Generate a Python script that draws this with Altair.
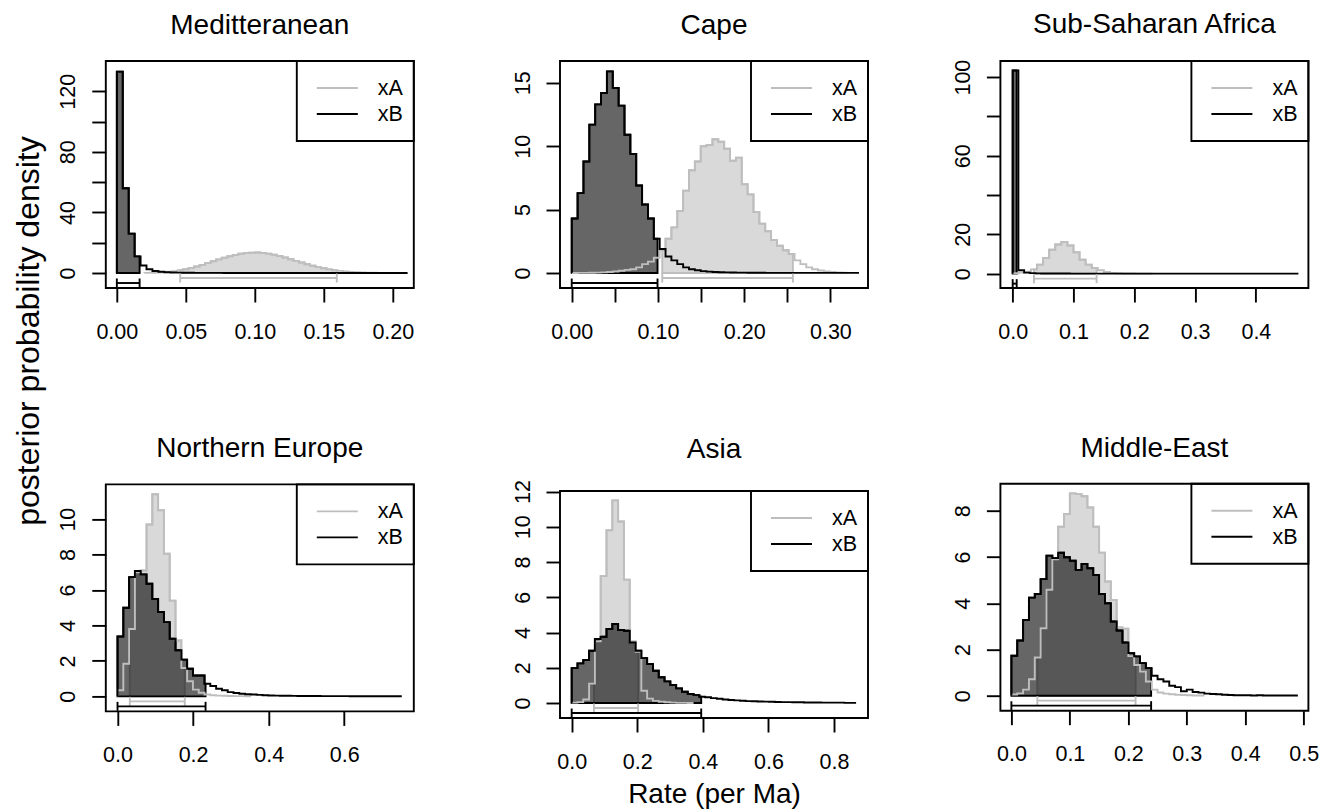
import altair as alt
import pandas as pd

FONT = "Liberation Sans"
W, H = 308, 227
A_LINE, A_FILL = "#bebebe", "#d9d9d9"
LW = 1.9

# ---------------- data ----------------
panel_names = ["Meditteranean", "Cape", "Sub-Saharan Africa",
               "Northern Europe", "Asia", "Middle-East"]

# Meditteranean
med_xA_start, med_xA_width = 0.020, 0.004
med_xA = [0.1, 0.2, 0.3, 0.5, 0.8, 1.2, 1.8, 2.5, 3.3, 4.3,
          5.4, 6.6, 7.8, 9.0, 10.1, 11.1, 12.0, 12.7, 13.2, 13.4,
          13.5, 13.3, 12.8, 12.1, 11.2, 10.2, 9.1, 8.0, 6.9, 5.8,
          4.8, 3.9, 3.1, 2.4, 1.8, 1.4, 1.0, 0.7, 0.5, 0.35,
          0.25, 0.15, 0.1, 0.05, 0.03]
med_xB_start, med_xB_width = 0.0, 0.0043
med_xB = [133.0, 56.0, 26.0, 11.0, 5.0, 2.5, 1.3, 0.8, 0.5, 0.35,
          0.25, 0.2, 0.15, 0.12, 0.1, 0.08, 0.07, 0.06, 0.05, 0.04,
          0.04, 0.03, 0.03, 0.02, 0.02, 0.02, 0.02, 0.01, 0.01, 0.01,
          0.01, 0.01, 0.01, 0.01, 0.01, 0.01, 0.01, 0.01, 0.01, 0.01,
          0.01, 0.01, 0.01, 0.01, 0.01, 0.01, 0.01, 0.01, 0.01]
med_hpd_xA = [0.0459, 0.1594]
med_hpd_xB = [0.0, 0.0165]

# Cape
cape_xA_start, cape_xA_width = 0.0, 0.0068
cape_xA = [0.005, 0.01, 0.01, 0.02, 0.03, 0.05, 0.08, 0.12, 0.18, 0.25,
           0.3, 0.45, 0.7, 0.9, 1.2, 1.8, 2.7, 3.6, 4.9, 6.5,
           8.1, 8.8, 10.0, 10.1, 10.55, 10.35, 9.8, 8.85, 9.1, 7.0,
           6.2, 4.8, 3.9, 3.3, 2.6, 2.15, 1.8, 1.5, 1.0, 0.7,
           0.45, 0.3, 0.2, 0.12, 0.08, 0.05, 0.03]
cape_xB_start, cape_xB_width = 0.0, 0.0068
cape_xB = [4.3, 6.3, 8.8, 11.7, 13.3, 14.2, 15.9, 14.6, 13.2, 10.9,
           9.4, 6.9, 5.4, 4.3, 2.7, 1.9, 1.3, 1.0, 0.7, 0.45,
           0.3, 0.22, 0.15, 0.11, 0.08, 0.06, 0.05, 0.04, 0.03, 0.03,
           0.02, 0.02, 0.02, 0.01, 0.01, 0.01, 0.01, 0.01, 0.01, 0.01,
           0.01, 0.01, 0.01, 0.01, 0.01, 0.01, 0.01, 0.01, 0.01]
cape_hpd_xA = [0.105, 0.2565]
cape_hpd_xB = [0.0, 0.0995]

# Sub-Saharan Africa
ssa_xA_start, ssa_xA_width = 0.0, 0.01
ssa_xA = [0.2, 0.5, 1.0, 2.2, 4.6, 8.0, 12.2, 14.8, 16.1, 14.3,
          10.9, 7.1, 4.6, 2.9, 1.7, 0.85, 0.4, 0.2, 0.1, 0.05,
          0.03, 0.02, 0.01]
ssa_xB_start, ssa_xB_width = 0.0, 0.0094
ssa_xB = [103.4, 1.7, 0.5, 0.25, 0.15, 0.1, 0.08, 0.06, 0.05, 0.04,
          0.03, 0.03, 0.03, 0.03, 0.03, 0.02, 0.02, 0.02, 0.02, 0.02,
          0.02, 0.02, 0.02, 0.02, 0.02, 0.01, 0.01, 0.01, 0.01, 0.01,
          0.01, 0.01, 0.01, 0.01, 0.01, 0.01, 0.01, 0.01, 0.01, 0.01,
          0.01, 0.01, 0.01, 0.01, 0.01, 0.01, 0.01, 0.01, 0.01, 0.01]
ssa_hpd_xA = [0.035, 0.138]
ssa_hpd_xB = [0.0, 0.0066]

# Northern Europe
ne_xA_start, ne_xA_width = 0.0, 0.01535
ne_xA = [0.34, 1.84, 3.8, 7.0, 7.1, 9.7, 11.4, 10.5, 8.05, 5.4,
         3.15, 1.6, 0.85, 0.38, 0.2, 0.1, 0.06, 0.04, 0.03, 0.02,
         0.01, 0.01, 0.005]
ne_xB_start, ne_xB_width = 0.0, 0.01535
ne_xB = [3.38, 5.0, 6.73, 7.07, 6.88, 6.35, 5.5, 4.76, 4.19, 3.25,
         2.6, 2.07, 1.56, 1.18, 1.18, 0.71, 0.58, 0.43, 0.34, 0.24,
         0.19, 0.15, 0.12, 0.1, 0.08, 0.06, 0.05, 0.04, 0.035, 0.03,
         0.025, 0.02, 0.02, 0.015, 0.015, 0.01, 0.01, 0.01, 0.01, 0.01,
         0.005, 0.005, 0.005, 0.005, 0.005, 0.005, 0.005, 0.005, 0.005]
ne_hpd_xA = [0.0325, 0.178]
ne_hpd_xB = [0.0, 0.233]

# Asia
asia_xA_start, asia_xA_width = 0.0, 0.0177
asia_xA = [0.02, 0.05, 0.2, 1.1, 3.5, 7.2, 9.8, 11.5, 10.3, 7.0,
           3.5, 2.9, 0.7, 0.25, 0.12, 0.07, 0.04, 0.02, 0.01, 0.01,
           0.005]
asia_xB_start, asia_xB_width = 0.0, 0.0177
asia_xB = [1.98, 2.25, 2.44, 2.97, 3.63, 3.76, 4.2, 4.48, 4.14, 4.1,
           3.44, 2.97, 2.55, 2.21, 1.83, 1.46, 1.23, 1.02, 0.83, 0.64,
           0.51, 0.45, 0.36, 0.33, 0.28, 0.24, 0.2, 0.17, 0.15, 0.13,
           0.11, 0.1, 0.09, 0.08, 0.07, 0.06, 0.05, 0.05, 0.04, 0.04,
           0.03, 0.03, 0.03, 0.02, 0.02, 0.02, 0.02, 0.01, 0.01]
asia_hpd_xA = [0.068, 0.2026]
asia_hpd_xB = [0.0, 0.395]

# Middle-East
me_xA_start, me_xA_width = 0.0, 0.01
me_xA = [0.05, 0.1, 0.26, 0.71, 1.65, 2.92, 4.58, 5.9, 7.31, 7.86,
         8.75, 8.72, 8.63, 8.14, 7.31, 6.19, 4.94, 4.14, 2.95, 2.9,
         1.71, 1.33, 1.04, 0.61, 0.26, 0.14, 0.09, 0.06, 0.04, 0.03,
         0.02, 0.01, 0.01]
me_xB_start, me_xB_width = 0.0, 0.01
me_xB = [1.73, 2.39, 3.28, 4.24, 4.4, 5.04, 6.06, 5.95, 6.18, 5.99,
         5.84, 5.44, 5.7, 5.51, 5.22, 4.4, 4.0, 3.21, 2.82, 2.3,
         1.84, 1.7, 1.41, 1.19, 0.86, 0.71, 0.61, 0.43, 0.37, 0.19,
         0.26, 0.16, 0.13, 0.09, 0.07, 0.06, 0.04, 0.03, 0.02, 0.02,
         0.02, 0.01, 0.02, 0.01, 0.01, 0.01, 0.01, 0.005, 0.005]
me_hpd_xA = [0.0444, 0.2124]
me_hpd_xB = [0.0, 0.239]

# axis domains and ticks
med_xdom, med_ydom = [-0.008, 0.2152], [-9.9, 140.0]
cape_xdom, cape_ydom = [-0.0136, 0.3436], [-1.18, 16.72]
ssa_xdom, ssa_ydom = [-0.0202, 0.4864], [-7.3, 108.2]
ne_xdom, ne_ydom = [-0.031, 0.784], [-0.85, 11.96]
asia_xdom, asia_ydom = [-0.0356, 0.9036], [-0.85, 12.03]
me_xdom, me_ydom = [-0.0188, 0.508], [-0.65, 9.17]

med_xticks, med_xlabels = [0, 0.05, 0.1, 0.15, 0.2], [0, 0.05, 0.1, 0.15, 0.2]
cape_xticks, cape_xlabels = [0, 0.05, 0.1, 0.15, 0.2, 0.25, 0.3], [0, 0.1, 0.2, 0.3]
ssa_xticks, ssa_xlabels = [0, 0.1, 0.2, 0.3, 0.4], [0, 0.1, 0.2, 0.3, 0.4]
ne_xticks, ne_xlabels = [0, 0.2, 0.4, 0.6], [0, 0.2, 0.4, 0.6]
asia_xticks, asia_xlabels = [0, 0.2, 0.4, 0.6, 0.8], [0, 0.2, 0.4, 0.6, 0.8]
me_xticks, me_xlabels = [0, 0.1, 0.2, 0.3, 0.4, 0.5], [0, 0.1, 0.2, 0.3, 0.4, 0.5]

med_yticks, med_ylabels = [0, 20, 40, 60, 80, 100, 120], [0, 40, 80, 120]
cape_yticks, cape_ylabels = [0, 5, 10, 15], [0, 5, 10, 15]
ssa_yticks, ssa_ylabels = [0, 20, 40, 60, 80, 100], [0, 20, 60, 100]
ne_yticks, ne_ylabels = [0, 2, 4, 6, 8, 10], [0, 2, 4, 6, 8, 10]
asia_yticks, asia_ylabels = [0, 2, 4, 6, 8, 10, 12], [0, 2, 4, 6, 8, 10, 12]
me_yticks, me_ylabels = [0, 2, 4, 6, 8], [0, 2, 4, 6, 8]

legend_labels = ["xA", "xB"]
x_title = "Rate (per Ma)"
y_title = "posterior probability density"


# ---------------- helpers ----------------
def step_outline(start, width, heights):
    xs, ys = [start], [0.0]
    for k, h in enumerate(heights):
        xs.append(start + k * width)
        ys.append(h)
    xs.append(start + len(heights) * width)
    ys.append(heights[-1])
    return pd.DataFrame({"x": xs, "y": ys, "i": list(range(len(xs)))})


def step_fill(start, width, heights, lo, hi):
    n = len(heights)

    def h_at(v):
        k = int((v - start) // width)
        return heights[max(0, min(n - 1, k))]

    xs, ys = [lo], [h_at(lo)]
    for k in range(n):
        e = start + k * width
        if lo < e < hi:
            xs.append(e)
            ys.append(heights[k])
    xs.append(hi)
    ys.append(ys[-1])
    return pd.DataFrame({"x": xs, "y": ys, "y2": [0.0] * len(xs)})


def label_expr(labels):
    return "indexof([" + ",".join(str(v) for v in labels) + "], datum.value) >= 0 ? datum.label : ''"


def panel(name, xa, xb, hpd_a, hpd_b, xdom, ydom, xticks, xlabels, xfmt,
          yticks, ylabels, xtitle=None, title_offset=20):
    xaxis_kw = dict(values=xticks, format=xfmt, labelExpr=label_expr(xlabels))
    if xtitle:
        xaxis_kw.update(title=xtitle, titleFont=FONT, titleFontSize=28,
                        titleFontWeight="normal", titleColor="black", titlePadding=8)
    x_enc = alt.X("x:Q", scale=alt.Scale(domain=xdom, nice=False, zero=False),
                  axis=alt.Axis(**xaxis_kw), title=xtitle)
    y_enc = alt.Y("y:Q", scale=alt.Scale(domain=ydom, nice=False, zero=False),
                  axis=alt.Axis(values=yticks, format="d", labelExpr=label_expr(ylabels)),
                  title=None, stack=None)

    fa = step_fill(*xa, *hpd_a)
    fb = step_fill(*xb, *hpd_b)
    oa = step_outline(*xa)
    ob = step_outline(*xb)

    area_a = alt.Chart(fa).mark_area(interpolate="step-after", fill=A_FILL, stroke=A_LINE,
                                      strokeWidth=LW).encode(x=x_enc, y=y_enc, y2="y2:Q")
    area_b = alt.Chart(fb).mark_area(interpolate="step-after", fill="black", fillOpacity=0.6,
                                      stroke="black", strokeWidth=LW).encode(
        x=x_enc, y=y_enc, y2="y2:Q")
    line_a = alt.Chart(oa).mark_line(interpolate="step-after", color=A_LINE,
                                      strokeWidth=LW).encode(x=x_enc, y=y_enc, order="i:Q")
    line_b = alt.Chart(ob).mark_line(interpolate="step-after", color="black",
                                      strokeWidth=LW).encode(x=x_enc, y=y_enc, order="i:Q")

    def hpd_layers(hpd, color, off):
        bar = alt.Chart(pd.DataFrame({"x": [hpd[0]], "x2": [hpd[1]], "y": [0.0]})).mark_rule(
            color=color, strokeWidth=LW, yOffset=off).encode(x=x_enc, x2="x2:Q", y=y_enc)
        caps = alt.Chart(pd.DataFrame({"x": hpd, "y": [0.0, 0.0]})).mark_tick(
            orient="vertical", size=9, thickness=LW, color=color, opacity=1,
            yOffset=off).encode(x=x_enc, y=y_enc)
        return [bar, caps]

    one = pd.DataFrame({"a": [0]})
    leg_box = alt.Chart(one).mark_rect(fill="white", stroke="black", strokeWidth=LW).encode(
        x=alt.value(W - 117), x2=alt.value(W), y=alt.value(0), y2=alt.value(80))
    leg_layers = [leg_box]
    for j, (lab, col) in enumerate(zip(legend_labels, [A_LINE, "black"])):
        yy = 27 + 26 * j
        leg_layers.append(alt.Chart(one).mark_rule(color=col, strokeWidth=LW).encode(
            x=alt.value(W - 97), x2=alt.value(W - 56), y=alt.value(yy)))
        leg_layers.append(alt.Chart(one).mark_text(
            align="left", baseline="middle", font=FONT, fontSize=21.5, color="black").encode(
            x=alt.value(W - 36), y=alt.value(yy + 1), text=alt.value(lab)))
    frame = alt.Chart(one).mark_rect(fill="transparent", stroke="black", strokeWidth=LW).encode(
        x=alt.value(0), x2=alt.value(W), y=alt.value(0), y2=alt.value(H))

    layers = ([area_a, area_b, line_a, line_b]
              + hpd_layers(hpd_a, A_LINE, 5) + hpd_layers(hpd_b, "black", 10)
              + leg_layers + [frame])
    return alt.layer(*layers).properties(
        width=W, height=H, title=alt.TitleParams(text=name, offset=title_offset))


p_med = panel(panel_names[0], (med_xA_start, med_xA_width, med_xA),
              (med_xB_start, med_xB_width, med_xB), med_hpd_xA, med_hpd_xB,
              med_xdom, med_ydom, med_xticks, med_xlabels, ".2f", med_yticks, med_ylabels)
p_cape = panel(panel_names[1], (cape_xA_start, cape_xA_width, cape_xA),
               (cape_xB_start, cape_xB_width, cape_xB), cape_hpd_xA, cape_hpd_xB,
               cape_xdom, cape_ydom, cape_xticks, cape_xlabels, ".2f", cape_yticks, cape_ylabels)
p_ssa = panel(panel_names[2], (ssa_xA_start, ssa_xA_width, ssa_xA),
              (ssa_xB_start, ssa_xB_width, ssa_xB), ssa_hpd_xA, ssa_hpd_xB,
              ssa_xdom, ssa_ydom, ssa_xticks, ssa_xlabels, ".1f", ssa_yticks, ssa_ylabels)
p_ne = panel(panel_names[3], (ne_xA_start, ne_xA_width, ne_xA),
             (ne_xB_start, ne_xB_width, ne_xB), ne_hpd_xA, ne_hpd_xB,
             ne_xdom, ne_ydom, ne_xticks, ne_xlabels, ".1f", ne_yticks, ne_ylabels)
p_asia = panel(panel_names[4], (asia_xA_start, asia_xA_width, asia_xA),
               (asia_xB_start, asia_xB_width, asia_xB), asia_hpd_xA, asia_hpd_xB,
               asia_xdom, asia_ydom, asia_xticks, asia_xlabels, ".1f", asia_yticks, asia_ylabels,
               xtitle=x_title, title_offset=16)
p_me = panel(panel_names[5], (me_xA_start, me_xA_width, me_xA),
             (me_xB_start, me_xB_width, me_xB), me_hpd_xA, me_hpd_xB,
             me_xdom, me_ydom, me_xticks, me_xlabels, ".1f", me_yticks, me_ylabels)

# the label column starts at the level of the first row's plot frames
ylab = alt.Chart(pd.DataFrame({"t": [y_title]})).mark_text(
    angle=270, font=FONT, fontSize=32, color="black", baseline="alphabetic", align="center"
).encode(text="t:N", x=alt.value(31), y=alt.value(270)).properties(width=44, height=600)

col1 = alt.vconcat(p_med, p_ne, spacing=92.4)
col2 = alt.vconcat(p_cape, p_asia, spacing=92)
col3 = alt.vconcat(p_ssa, p_me, spacing=91.7)
grid = alt.hconcat(alt.hconcat(col1, col2, spacing=97.2), col3, spacing=81.6)

chart = alt.hconcat(ylab, grid, spacing=4.8).properties(
    padding={"left": 0, "top": 3, "right": 0, "bottom": 0}
).configure_view(strokeWidth=0, strokeOpacity=0).configure_axis(
    domain=False, grid=False, tickColor="black", tickWidth=LW, tickSize=14,
    labelFont=FONT, labelFontSize=21.5, labelColor="black", labelOverlap=False,
    labelBound=False, labelFlush=False
).configure_axisX(
    labelPadding=36, labelBaseline="alphabetic", labelAngle=0
).configure_axisY(
    labelPadding=17, labelAngle=270, labelAlign="center", labelBaseline="alphabetic"
).configure_title(
    font=FONT, fontSize=28, fontWeight="normal", color="black", anchor="middle",
    frame="group"
)

chart.save("out.html", embed_options={"renderer": "svg", "actions": False})
